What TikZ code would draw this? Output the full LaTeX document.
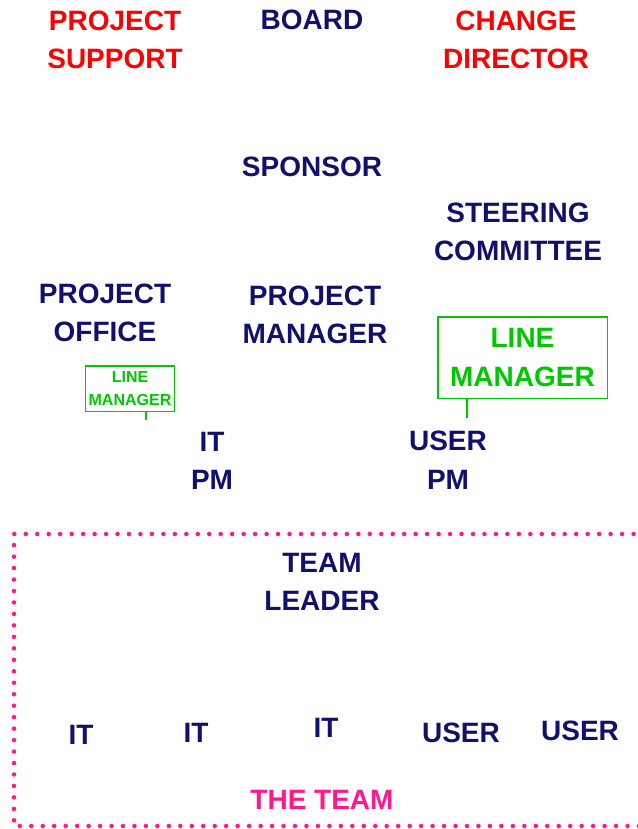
\documentclass[tikz,border=0pt]{standalone}
\usepackage{fontspec}
\setmainfont{Liberation Sans}
\usetikzlibrary{positioning}
\definecolor{navy0}{RGB}{16,16,110}
\definecolor{red0}{RGB}{255,0,0}
\definecolor{lime0}{RGB}{0,200,0}
\definecolor{pink0}{RGB}{255,25,140}

\begin{document}
\begin{tikzpicture}[x=0.75pt,y=-0.75pt,
    every node/.style={font=\fontsize{21}{29}\selectfont\bfseries,align=center,inner sep=0pt,text=navy0},
    role/.style={text=red0},
    linemgr/.style={draw=lime0,line width=1pt,text=lime0},
    stem/.style={draw=lime0,line width=1pt},
    teamline/.style={draw=pink0,line width=3.4pt,line cap=round,dash pattern=on 0pt off 8.6pt}]
  \useasboundingbox (0,0) rectangle (637,829);
  % governance
  \node[role] (support) at (115,40) {PROJECT\\SUPPORT};
  \node (board) at (312,20) {BOARD};
  \node[role] (director) at (516,40) {CHANGE\\DIRECTOR};
  \node (sponsor) at (312,167) {SPONSOR};
  \node (steering) at (518,232) {STEERING\\COMMITTEE};
  % management
  \node (office) at (105,313) {PROJECT\\OFFICE};
  \node (pm) at (315,315) {PROJECT\\MANAGER};
  \node[linemgr,minimum width=127pt,minimum height=61pt] (lmuser) at (522.5,357.5) {LINE\\MANAGER};
  \node[linemgr,minimum width=67pt,minimum height=34pt,font=\fontsize{12}{17}\selectfont\bfseries] (lmit) at (130,388.5) {LINE\\MANAGER};
  \node (itpm) at (212,461) {IT\\PM};
  \node (userpm) at (448,460) {USER\\PM};
  \coordinate (itstem) at (146,420);
  \coordinate (userstem) at (467,418);
  \draw[stem] (lmit.south -| itstem) -- (itstem);
  \draw[stem] (lmuser.south -| userstem) -- (userstem);
  % the team
  \draw[teamline] (645,534) -- (14,534) -- (14,826) -- (645,826);
  \node (leader) at (322,582) {TEAM\\LEADER};
  \node (it1) at (81,735) {IT};
  \node (it2) at (196,733) {IT};
  \node (it3) at (326,728) {IT};
  \node (user1) at (461,733) {USER};
  \node (user2) at (580,731) {USER};
  \node[text=pink0] (team) at (322,800) {THE TEAM};
\end{tikzpicture}
\end{document}
